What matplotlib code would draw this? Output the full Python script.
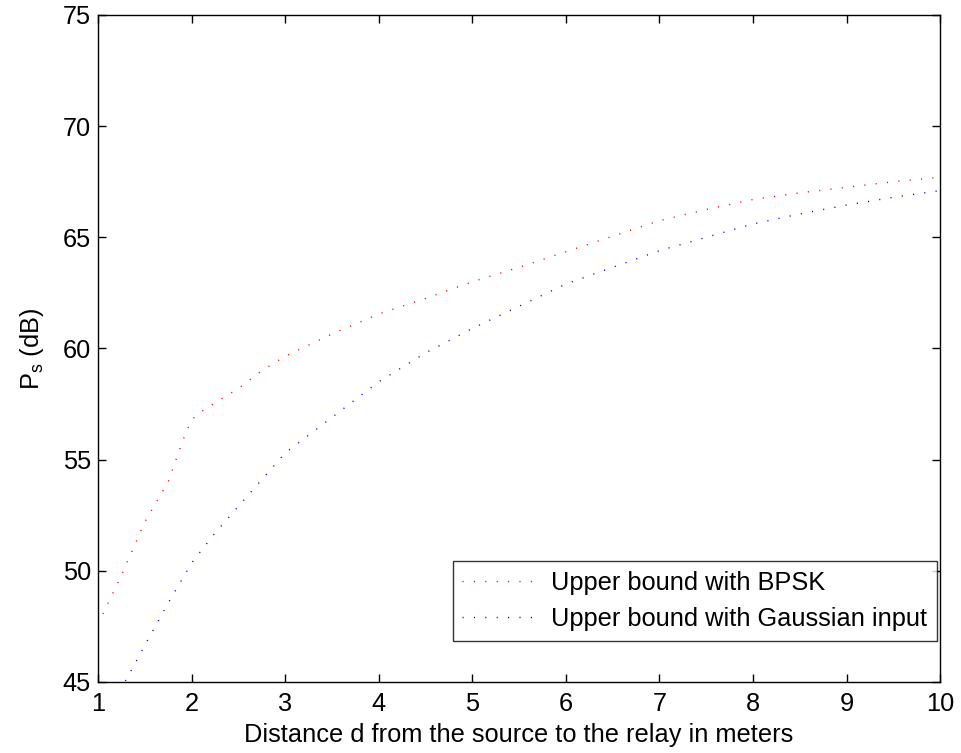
import matplotlib
matplotlib.use("Agg")
import matplotlib.pyplot as plt

plt.rcParams['font.family'] = ['Liberation Sans', 'DejaVu Sans']
plt.rcParams['lines.scale_dashes'] = False

d_bpsk = [1.0, 1.25, 1.5, 1.75, 1.9, 2.0, 2.1, 2.25, 2.5, 2.75, 3.0, 3.5, 4.0, 4.5, 5.0,
          5.5, 6.0, 6.5, 7.0, 7.5, 8.0, 8.5, 9.0, 9.5, 10.0]
p_bpsk = [47.6, 49.8, 52.2, 54.0, 55.8, 56.8, 57.15, 57.55, 58.2, 59.0, 59.65, 60.65, 61.55, 62.25, 63.0,
          63.65, 64.35, 65.05, 65.75, 66.25, 66.7, 67.0, 67.25, 67.5, 67.7]

d_gauss = [1.0, 1.3, 1.5, 1.75, 2.0, 2.25, 2.5, 2.75, 3.0, 3.5, 4.0, 4.5, 5.0,
           5.5, 6.0, 6.5, 7.0, 7.5, 8.0, 8.5, 9.0, 9.5, 10.0]
p_gauss = [42.8, 45.1, 46.65, 48.55, 50.35, 51.7, 52.9, 54.1, 55.3, 56.9, 58.5, 59.8, 60.9,
           61.9, 62.9, 63.65, 64.4, 65.0, 65.6, 66.05, 66.45, 66.8, 67.1]

x_ticks = [1, 2, 3, 4, 5, 6, 7, 8, 9, 10]
y_ticks = [45, 50, 55, 60, 65, 70, 75]

FS = 18.3

fig = plt.figure(figsize=(9.62, 7.53), dpi=100)
ax = fig.add_axes([0.1019, 0.0943, 0.8753, 0.8858])

dots = (0, (0.8, 7.4))
ax.plot(d_bpsk, p_bpsk, color='red', linestyle=dots, linewidth=1.0,
        label='Upper bound with BPSK')
ax.plot(d_gauss, p_gauss, color='blue', linestyle=dots, linewidth=1.0,
        label='Upper bound with Gaussian input')

ax.set_xlim(1, 10)
ax.set_ylim(45, 75)
ax.set_xticks(x_ticks)
ax.set_yticks(y_ticks)
ax.tick_params(direction='in', top=True, right=True, length=6, width=1,
               labelsize=FS)
ax.tick_params(axis='x', pad=7)
ax.tick_params(axis='y', pad=5)
for s in ax.spines.values():
    s.set_linewidth(1.0)

ax.set_xlabel('Distance d from the source to the relay in meters', fontsize=FS, labelpad=5)
ax.set_ylabel(r'P$_\mathregular{s}$ (dB)', fontsize=FS, labelpad=12)

leg = ax.legend(loc='lower right', bbox_to_anchor=(0.9964, 0.0615), fontsize=FS,
                handlelength=2.9, frameon=True, fancybox=False, borderaxespad=0.0,
                borderpad=0.38, labelspacing=0.48, handletextpad=0.6)
leg.get_frame().set_edgecolor('black')
leg.get_frame().set_linewidth(1.0)

fig.savefig('out.png', dpi=100)
